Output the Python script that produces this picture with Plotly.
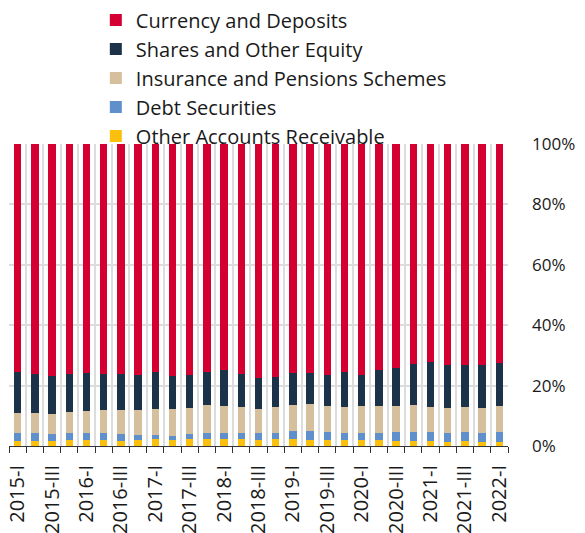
import plotly.graph_objects as go

quarters = []
for yr in range(2015, 2023):
    for q in ["I", "II", "III", "IV"]:
        quarters.append(f"{yr}-{q}")
quarters = quarters[:29]  # 2015-I .. 2022-I

other_accounts = [1.8,1.8,1.8,2.0,2.0,2.0,1.8,2.0,2.3,2.0,2.2,2.2,2.2,2.2,2.1,2.2,2.3,2.1,2.1,2.1,2.1,2.0,1.8,1.8,1.8,1.4,1.5,1.4,1.4]
debt_securities = [2.6,2.5,2.3,2.3,2.2,2.2,2.1,1.6,1.3,1.4,1.7,2.0,2.2,2.2,2.1,2.0,2.6,2.8,2.4,2.1,2.1,2.2,2.9,2.7,2.7,2.9,3.2,3.0,3.3]
insurance_pensions = [6.4,6.6,6.4,6.8,7.4,7.6,8.0,8.3,8.5,8.7,8.8,9.5,8.9,8.6,8.1,8.8,8.8,9.0,8.9,8.8,8.9,8.9,8.6,9.0,8.5,8.4,8.3,8.3,8.4]
shares_equity = [13.6,12.8,12.6,12.9,12.6,12.2,12.1,11.6,12.5,11.0,10.8,10.9,11.8,11.0,10.1,9.9,10.4,10.2,10.1,11.6,10.3,12.2,12.4,13.7,14.7,14.0,13.7,14.0,14.3]
currency_deposits = [75.6,76.3,76.9,76.0,75.8,76.0,76.0,76.5,75.4,76.9,76.5,75.4,74.9,76.0,77.6,77.1,75.9,75.9,76.5,75.4,76.6,74.7,74.3,72.8,72.3,73.3,73.3,73.3,72.6]

tick_labels = [q if i % 2 == 0 else "" for i, q in enumerate(quarters)]

series = [
    ("Other Accounts Receivable", other_accounts, "#fbc00e"),
    ("Debt Securities", debt_securities, "#6090cc"),
    ("Insurance and Pensions Schemes", insurance_pensions, "#d6bf9d"),
    ("Shares and Other Equity", shares_equity, "#1c3249"),
    ("Currency and Deposits", currency_deposits, "#d50032"),
]

FONT = "Open Sans"
fig = go.Figure()
for name, vals, col in series:
    fig.add_trace(go.Bar(x=quarters, y=vals, name=name, marker=dict(color=col, line=dict(width=0))))

# page body has an 8px default margin, so the figure is sized 8px smaller
fig.update_layout(
    width=577, height=525,
    barmode="stack", bargap=0.57,
    plot_bgcolor="white", paper_bgcolor="white",
    margin=dict(l=1, r=77, t=135.5, b=87, autoexpand=False),
    font=dict(family=FONT, size=20, color="#1a1a1a"),
    showlegend=True,
    legend=dict(traceorder="reversed", x=0.174, xanchor="left", y=1.475, yanchor="top",
                font=dict(size=20, family=FONT), bgcolor="rgba(0,0,0,0)",
                itemwidth=30, tracegroupgap=0),
)
fig.update_xaxes(
    type="category", tickmode="array", tickvals=quarters, ticktext=tick_labels,
    tickson="boundaries", ticks="outside", ticklen=6, tickcolor="#333",
    tickangle=-90, tickfont=dict(size=20, family=FONT), ticklabelstandoff=10,
    showgrid=True, gridcolor="#dcdcdc", gridwidth=2,
    showline=True, linecolor="#333", linewidth=1,
)
fig.update_yaxes(
    range=[0, 100], dtick=20, ticksuffix="%", side="right",
    showgrid=True, gridcolor="#dcdcdc", gridwidth=2,
    tickfont=dict(size=17, family=FONT), zeroline=False, ticks="",
    ticklabelstandoff=23,
)
fig.write_html("out.html")
